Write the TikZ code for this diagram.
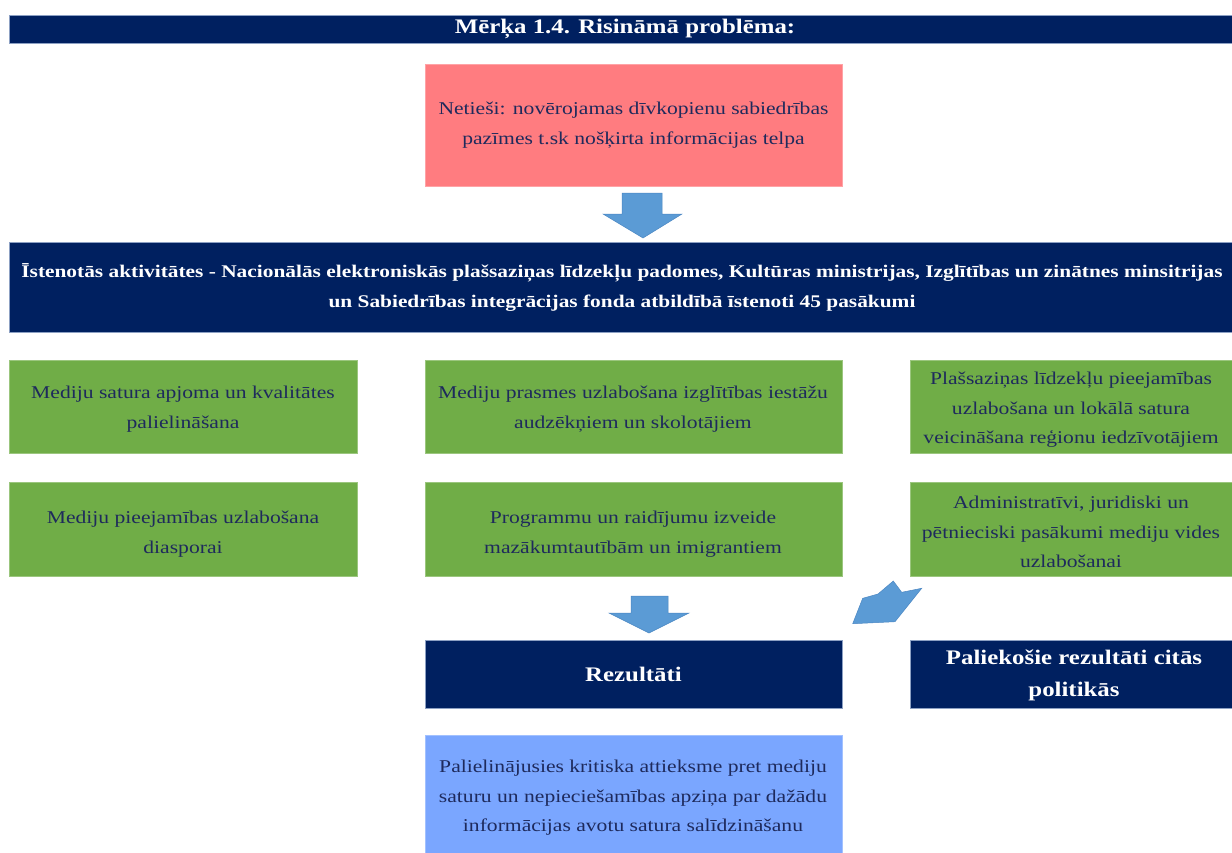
\documentclass[tikz,border=0pt]{standalone}
\usepackage{fontspec}
\setmainfont{Liberation Serif}
\definecolor{navy}{RGB}{0,32,96}
\definecolor{navyedge}{RGB}{140,160,195}
\definecolor{redfill}{RGB}{255,124,128}
\definecolor{greenfill}{RGB}{112,173,71}
\definecolor{bluefill}{RGB}{122,166,255}
\definecolor{arrowfill}{RGB}{91,155,213}
\definecolor{arrowedge}{RGB}{75,135,195}
\definecolor{txtblue}{RGB}{30,42,92}
\begin{document}
\begin{tikzpicture}[x=1pt,y=-1pt,
  boxbase/.style={anchor=north west, inner sep=0pt, outer sep=0pt},
  navybox/.style={boxbase, fill=navy, draw=navyedge, line width=0.6pt},
  redbox/.style={boxbase, fill=redfill, draw=redfill!70!white, line width=0.5pt},
  greenbox/.style={boxbase, fill=greenfill, draw=greenfill!70!white, line width=0.5pt},
  bluebox/.style={boxbase, fill=bluefill, draw=bluefill!70!white, line width=0.5pt},
  btxt/.style={xscale=1.2, text=white, align=center, inner sep=0pt, font=\bfseries\fontsize{20.7}{32}\selectfont},
  bandtxt/.style={xscale=1.2, text=white, align=center, inner sep=0pt, font=\bfseries\fontsize{17.8}{30}\selectfont},
  ntxt/.style={xscale=1.2, text=txtblue, align=center, inner sep=0pt, font=\fontsize{18}{29.5}\selectfont},
  blockarrow/.style={fill=arrowfill, draw=arrowedge, line width=0.5pt, line join=miter}
]
\useasboundingbox (0,0) rectangle (1232,852);
\fill[white] (0,0) rectangle (1232,852);

% title bar
\node[navybox, minimum width=1224pt, minimum height=28pt] (title) at (9,15) {};
\coordinate (titlec) at (625,29);
\node[btxt] (titlet) at (titlec) {Mērķa 1.4. Risināmā problēma:};

% problem box
\node[redbox, minimum width=417pt, minimum height=122pt] (prob) at (425,64) {};
\node[ntxt] (probt) at (prob) {Netieši: novērojamas dīvkopienu sabiedrības\\pazīmes t.sk nošķirta informācijas telpa};

% arrow 1
\draw[blockarrow] (622,193) -- (662,193) -- (662,214) -- (682,214) -- (643,238) -- (603,214) -- (622,214) -- cycle;

% activities band
\node[navybox, minimum width=1224pt, minimum height=90pt] (band) at (9,242) {};
\coordinate (bandc) at (622,287);
\node[bandtxt] (bandt) at (bandc) {Īstenotās aktivitātes - Nacionālās elektroniskās plašsaziņas līdzekļu padomes, Kultūras ministrijas, Izglītības un zinātnes minsitrijas\\un Sabiedrības integrācijas fonda atbildībā īstenoti 45 pasākumi};

% green boxes row 1
\node[greenbox, minimum width=348pt, minimum height=93pt] (g11) at (9,360) {};
\node[greenbox, minimum width=417pt, minimum height=93pt] (g12) at (425,360) {};
\node[greenbox, minimum width=323pt, minimum height=93pt] (g13) at (910,360) {};
\coordinate (c11) at (183,409);
\coordinate (c12) at (633,409);
\coordinate (c13) at (1071,410);
\node[ntxt] (g11t) at (c11) {Mediju satura apjoma un kvalitātes\\palielināšana};
\node[ntxt] (g12t) at (c12) {Mediju prasmes uzlabošana izglītības iestāžu\\audzēkņiem un skolotājiem};
\node[ntxt] (g13t) at (c13) {Plašsaziņas līdzekļu pieejamības\\uzlabošana un lokālā satura\\veicināšana reģionu iedzīvotājiem};

% green boxes row 2
\node[greenbox, minimum width=348pt, minimum height=94pt] (g21) at (9,482) {};
\node[greenbox, minimum width=417pt, minimum height=94pt] (g22) at (425,482) {};
\node[greenbox, minimum width=323pt, minimum height=94pt] (g23) at (910,482) {};
\coordinate (c21) at (183,534);
\coordinate (c22) at (633,534);
\coordinate (c23) at (1071,532);
\node[ntxt] (g21t) at (c21) {Mediju pieejamības uzlabošana\\diasporai};
\node[ntxt] (g22t) at (c22) {Programmu un raidījumu izveide\\mazākumtautībām un imigrantiem};
\node[ntxt] (g23t) at (c23) {Administratīvi, juridiski un\\pētnieciski pasākumi mediju vides\\uzlabošanai};

% arrow 2 (down)
\draw[blockarrow] (631,596) -- (668,596) -- (668,613) -- (689,613) -- (649,633) -- (609,613) -- (631,613) -- cycle;

% arrow 3 (diagonal)
\draw[blockarrow] (852.7,623.7) -- (862.7,598.3) -- (878,594) -- (893.3,581) -- (901.7,592.3) -- (921.7,588.3) -- (895,621.7) -- cycle;

% results
\node[navybox, minimum width=417pt, minimum height=68pt] (rez) at (425,640) {};
\node[btxt] (rezt) at (rez) {Rezultāti};
\node[navybox, minimum width=323pt, minimum height=68pt] (pal) at (910,640) {};
\coordinate (palc) at (1074,675);
\node[btxt] (palt) at (palc) {Paliekošie rezultāti citās\\politikās};

% outcome box
\node[bluebox, minimum width=417pt, minimum height=120pt] (out) at (425,735) {};
\coordinate (outc) at (633,798);
\node[ntxt] (outt) at (outc) {Palielinājusies kritiska attieksme pret mediju\\saturu un nepieciešamības apziņa par dažādu\\informācijas avotu satura salīdzināšanu};
\end{tikzpicture}
\end{document}
